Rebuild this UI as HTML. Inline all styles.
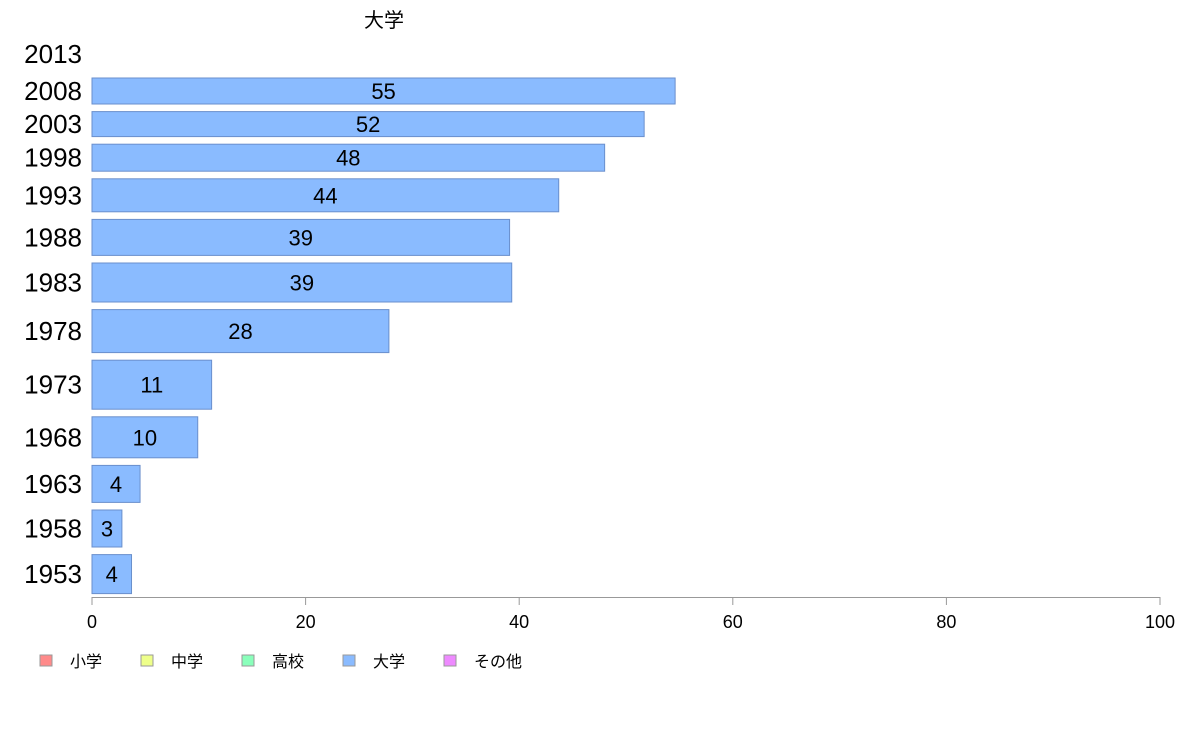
<!DOCTYPE html>
<html><head><meta charset="utf-8"><style>
body{margin:0;background:#fff;}
svg{display:block;font-family:"Liberation Sans","Noto Sans CJK JP",sans-serif;}
</style></head><body>
<svg id="chart" width="1188" height="736" viewBox="0 0 1188 736">
<text x="384" y="27" font-size="20" text-anchor="middle" fill="#000">大学</text>
<g id="bars"></g>
<g id="axis"></g>
<g id="legend"></g>
</svg>
<script>
const years = ["2008","2003","1998","1993","1988","1983","1978","1973","1968","1963","1958","1953"];
const values = [54.6, 51.7, 48.0, 43.7, 39.1, 39.3, 27.8, 11.2, 9.9, 4.5, 2.8, 3.7];
const labels = ["55","52","48","44","39","39","28","11","10","4","3","4"];
const weights = [26, 25, 27, 33, 36, 39, 43, 49, 41, 37, 37, 39];
const ticks = [0, 20, 40, 60, 80, 100];
const legendNames = ["小学","中学","高校","大学","その他"];
const legendColors = ["#ff8a8a","#eeff8a","#8affbb","#8abbff","#ee8aff"];

const NS = "http://www.w3.org/2000/svg";
const x0 = 92, x1 = 1160;
const xs = v => x0 + (x1 - x0) * v / 100;
const gap = 7.6, yStart = 78;
function mk(tag, attrs, parent){const e=document.createElementNS(NS,tag);for(const k in attrs)e.setAttribute(k,attrs[k]);parent.appendChild(e);return e;}

const bars = document.getElementById("bars");
const t0 = mk("text",{x:82,y:63,"font-size":26,"text-anchor":"end",fill:"#000"},bars);


t0.textContent="2013";
let y = yStart;
years.forEach((yr,i)=>{
  const h = weights[i];
  const r = mk("rect",{x:x0,y:y,width:xs(values[i])-x0,height:h,fill:"#8abbff",stroke:"#6a8fcc","stroke-width":1},bars);
  
  
  const yl = mk("text",{x:82,y:y+h/2+9,"font-size":26,"text-anchor":"end",fill:"#000"},bars);
  
  
  yl.textContent = yr;
  const vl = mk("text",{x:(x0+xs(values[i]))/2,y:y+h/2+8,"font-size":22,"text-anchor":"middle",fill:"#000"},bars);
  
  
  vl.textContent = labels[i];
  y += h + gap;
});

const axis = document.getElementById("axis");
const al = mk("line",{x1:x0,x2:x1,y1:597.5,y2:597.5,stroke:"#999","stroke-width":1},axis);


ticks.forEach(t=>{
  const tl = mk("line",{x1:xs(t),x2:xs(t),y1:597,y2:605,stroke:"#999","stroke-width":1},axis);
  
  
  const tt = mk("text",{x:xs(t),y:628,"font-size":18,"text-anchor":"middle",fill:"#000"},axis);
  
  
  tt.textContent = t;
});

const legend = document.getElementById("legend");
legendNames.forEach((n,i)=>{
  const lx = 40 + i*101;
  const sw = mk("rect",{x:lx,y:655,width:12,height:11,fill:legendColors[i],stroke:"#999","stroke-width":1},legend);
  
  
  const lt = mk("text",{x:lx+30,y:667,"font-size":16,fill:"#000"},legend);
  
  
  lt.textContent = n;
});
</script>
</body></html>
